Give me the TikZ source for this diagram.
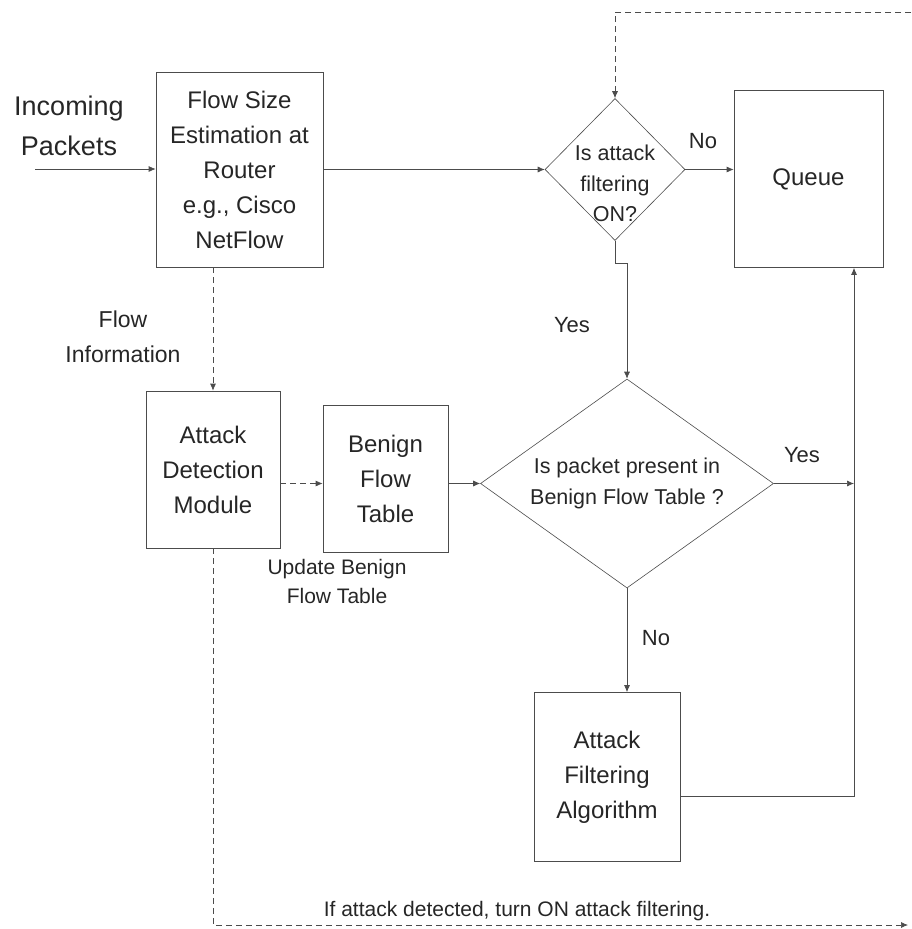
\documentclass[tikz,border=0pt]{standalone}
\usepackage{fontspec}
\setmainfont{Liberation Sans}
\usetikzlibrary{positioning,shapes.geometric,arrows.meta,calc}

\tikzset{
  box/.style = {draw=black!70, line width=0.7pt, align=center, text=black!85,
                font=\fontsize{24}{35}\selectfont},
  decision/.style = {diamond, draw=black!70, line width=0.6pt, inner sep=0pt},
  dtext/.style = {align=center, text=black!85, font=\fontsize{21.5}{30.5}\selectfont},
  note/.style = {align=center, text=black!85, font=\fontsize{23}{35}\selectfont},
  yesno/.style = {text=black!85, font=\fontsize{22}{26}\selectfont},
  arr/.style = {draw=black!70, line width=0.7pt, -{Latex[length=7pt,width=6pt]}},
  dasharr/.style = {arr, dash pattern=on 6pt off 4pt}
}

\begin{document}
\begin{tikzpicture}[x=1pt, y=-1pt]
\useasboundingbox (0,0) rectangle (911,929);

% boxes
\node[box, minimum width=167pt, minimum height=195pt] (flow) at (239.5,169.5)
  {Flow Size\\Estimation at\\Router\\e.g., Cisco\\NetFlow};
\node[note, font=\fontsize{27}{40}\selectfont] (incoming) [node distance=170.5pt, left of=flow, yshift=43.5pt]
  {Incoming\\Packets};
\node[decision, minimum width=140pt, minimum height=142pt,
      label={[dtext, yshift=-14pt]center:Is attack\\filtering\\ON?}] (on)
  [node distance=375.5pt, right of=flow] {};
\node[box, minimum width=149pt, minimum height=177pt] (queue)
  [node distance=193.5pt, right of=on, yshift=-9.5pt] {Queue};
\node[box, minimum width=134pt, minimum height=157pt] (adm)
  [node distance=300pt, below of=flow, xshift=-26.5pt] {Attack\\Detection\\Module};
\node[box, minimum width=125pt, minimum height=147pt] (bft)
  [node distance=172.5pt, right of=adm, yshift=-9pt] {Benign\\Flow\\Table};
\node[decision, minimum width=293pt, minimum height=209pt,
      label={[dtext]center:Is packet present in\\Benign Flow Table ?}] (inbft)
  [node distance=314pt, below of=on, xshift=12pt] {};
\node[box, minimum width=146pt, minimum height=169pt] (afa)
  [node distance=293.5pt, below of=inbft, xshift=-20pt] {Attack\\Filtering\\Algorithm};

% free labels
\node[note] (flowinfo) at (123,337) {Flow\\Information};
\node[note, font=\fontsize{21}{29}\selectfont] (update) at (337,581) {Update Benign\\Flow Table};
\node[note, font=\fontsize{21}{26}\selectfont] (turnon) at (517,911)
  {If attack detected, turn ON attack filtering.};
\node[yesno] (yes1) at (572,325) {Yes};
\node[yesno] (no1) at (703,141) {No};
\node[yesno] (yes2) at (802,455) {Yes};
\node[yesno] (no2) at (656,638) {No};

\coordinate (start) at (35,169);
\coordinate (loopend) at (908,925);
\coordinate (loopstart) at (911,12);
\coordinate (qin) at ($(queue.south)+(45.5,0)$);

% connectors
\draw[arr] (start) -- (flow.west |- start);
\draw[arr] (flow.east |- on.west) -- (on.west);
\draw[arr] (on.east) -- (on.east -| queue.west);
\draw[arr] (on.south) -- ++(0,23) -| (inbft.north);
\draw[dasharr] (adm.north |- flow.south) -- (adm.north);
\draw[dasharr] (adm.east |- inbft.west) -- (bft.west |- inbft.west);
\draw[arr] (bft.east |- inbft.west) -- (inbft.west);
\draw[arr] (inbft.east) -- (inbft.east -| qin);
\draw[arr] (inbft.south) -- (inbft.south |- afa.north);
\draw[arr] ($(afa.east)+(0,19.5)$) -| (qin);
\draw[dasharr] (adm.south) |- (loopend);
\draw[dasharr] (loopstart) -| (on.north);
\end{tikzpicture}
\end{document}
